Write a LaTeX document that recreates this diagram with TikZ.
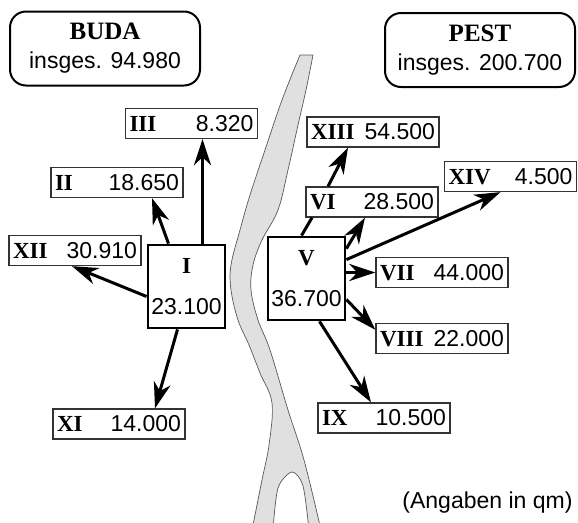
\documentclass[tikz,border=0pt]{standalone}
\usepackage{fontspec}
\setmainfont{Liberation Sans}
\newfontfamily\romfont{Liberation Serif}
\usetikzlibrary{arrows.meta,positioning}
\newcommand{\bezirk}[1]{{\romfont\bfseries\fontsize{23}{27}\selectfont #1}}
\newcommand{\stadt}[1]{{\romfont\bfseries\fontsize{25}{28}\selectfont #1}}

\begin{document}
\begin{tikzpicture}[
    x=1pt, y=-1pt,
    font=\fontsize{23}{27}\selectfont,
    title/.style={draw, line width=2pt, rounded corners=16pt, fill=white, minimum width=190pt, minimum height=74pt, align=center, inner sep=2pt},
    bez/.style={draw=black!80, line width=1.3pt, fill=white, text width=124pt, inner xsep=4pt, inner ysep=2pt, minimum height=30pt},
    main/.style={draw, line width=2.8pt, fill=white, minimum width=77pt, minimum height=83pt, align=center},
    arrow/.style={-{Stealth[length=26pt,width=17pt,inset=8pt]}, line width=3pt},
    river/.style={fill=black!12, draw=black!65, line width=0.7pt}
]
\useasboundingbox (0,0) rectangle (578,522);

% Donau
\filldraw[river] plot[smooth, tension=0.6] coordinates {(300,55) (282,100) (265,150) (250,195) (240,230) (231,265) (231,290) (238,320) (249,345) (260,373) (272,403) (269,445) (262,480) (252,530)}
  -- plot[smooth] coordinates {(273,530) (278,488) (292,472) (303,486) (309,530)}
  -- plot[smooth, tension=0.6] coordinates {(321,530) (304,460) (288,410) (270,350) (258,320) (251,290) (253,265) (262,240) (278,210) (288,170) (298,125) (306,90) (313,55)}
  -- cycle;

% Buda
\node[title] (buda) at (105,48.5) {\stadt{BUDA}\\[2pt] insges. 94.980};
\node[main] (I) at (186.5,286.5) {\bezirk{I}\\[14pt]23.100};
\node[bez] (III) at (191.5,123.5) {\bezirk{III}\hfill 8.320};
\node[bez] (II) at (117,182.5) {\bezirk{II}\hfill 18.650};
\node[bez] (XII) at (75,250.5) {\bezirk{XII}\hfill 30.910};
\node[bez] (XI) at (119,424) {\bezirk{XI}\hfill 14.000};

% Pest
\node[title] (pest) at (480,50) {\stadt{PEST}\\[2pt] insges. 200.700};
\node[main] (V) at (306.5,278.5) {\bezirk{V}\\[14pt]36.700};
\node[bez] (XIII) at (373,132) {\bezirk{XIII}\hfill 54.500};
\node[bez] (VI) at (372,202) {\bezirk{VI}\hfill 28.500};
\node[bez] (XIV) at (510.5,176.5) {\bezirk{XIV}\hfill 4.500};
\node[bez] (VII) at (442,272.5) {\bezirk{VII}\hfill 44.000};
\node[bez, below=35pt of VII] (VIII) {\bezirk{VIII}\hfill 22.000};
\node[bez] (IX) at (384,418) {\bezirk{IX}\hfill 10.500};

\node[anchor=east] (note) at (576,503) {(Angaben in qm)};

\draw[arrow] ([xshift=16pt]I.north) -- ([xshift=16pt]I.north |- III.south);
\draw[arrow] ([xshift=-18pt]I.north) -- ([xshift=35pt]II.south);
\draw[arrow] ([yshift=-10pt]I.west) -- ([xshift=-3pt]XII.south);
\draw[arrow] ([xshift=-9pt]I.south) -- ([xshift=36pt]XI.north);

\draw[line width=3pt] ([xshift=-5pt]V.north) -- ([xshift=-60pt]VI.south);
\draw[arrow] ([xshift=-44pt]VI.north) -- ([xshift=-25pt]XIII.south);
\draw[arrow] ([yshift=-13pt]V.north east) -- ([xshift=-7pt]VI.south);
\draw[arrow] ([yshift=-24pt]V.north east) -- ([xshift=-10pt]XIV.south);
\draw[arrow] (V.east |- VII.west) -- (VII.west);
\draw[arrow] ([yshift=-21pt]V.east) -- ([yshift=9pt]VIII.west);
\draw[arrow] ([xshift=13pt]V.south) -- ([xshift=-13pt]IX.north);

\end{tikzpicture}
\end{document}
